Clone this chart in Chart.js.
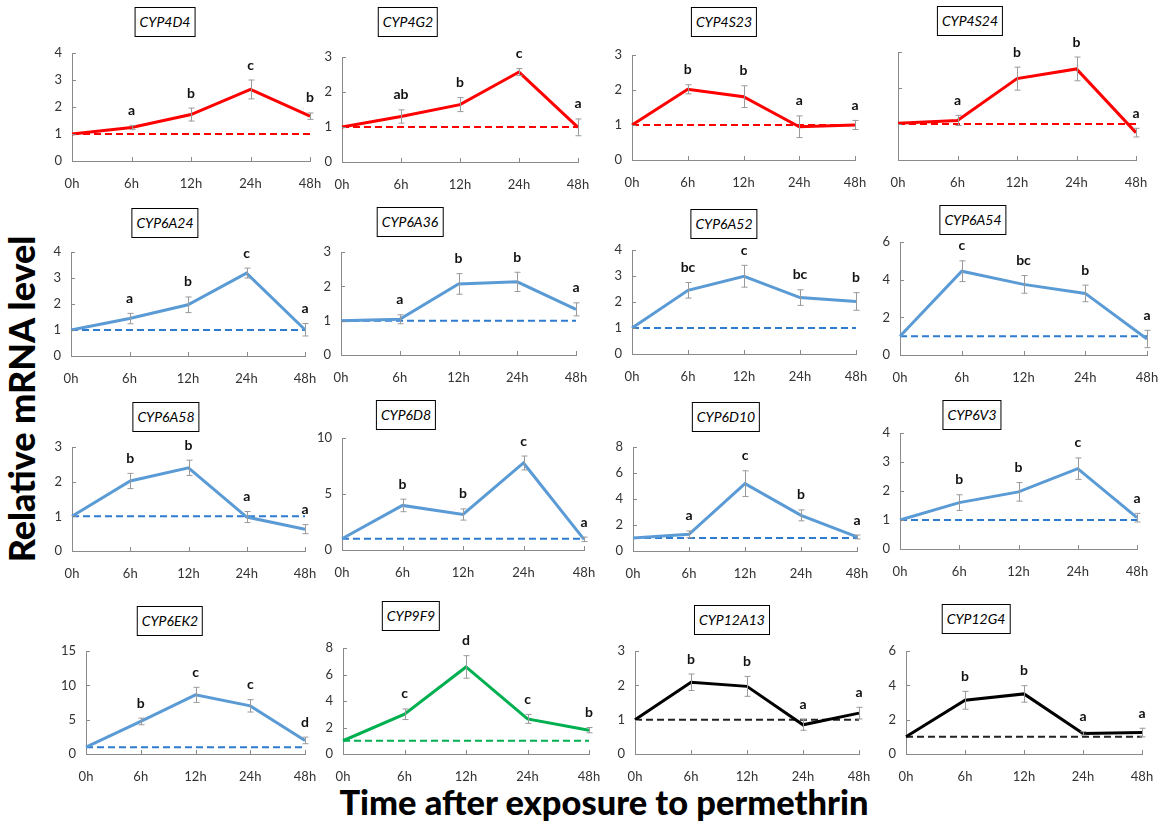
<!DOCTYPE html>
<html><head><meta charset="utf-8">
<script src="https://cdn.jsdelivr.net/npm/chart.js@4.4.1/dist/chart.umd.min.js"></script>
<style>
html,body{margin:0;padding:0;background:#fff;}
body{width:1166px;height:825px;overflow:hidden;position:relative;font-family:Lato,'Open Sans',sans-serif;}
canvas.panel{position:absolute;}
.gtitle{position:absolute;border:1.5px solid #000;font-family:Lato,sans-serif;font-style:italic;font-size:14px;color:#000;padding:6px 4px;line-height:16px;transform:translate(-50%,-50%);white-space:nowrap;background:#fff;}
.axtitle{position:absolute;font-family:Lato,'Open Sans',sans-serif;font-weight:900;color:#000;white-space:nowrap;transform:translate(-50%,-50%);line-height:1;}
</style></head>
<body>
<div id="ytitle" class="axtitle">Relative mRNA level</div>
<div id="xtitle" class="axtitle">Time after exposure to permethrin</div>
<script>
// ---------- DATA ----------
const hours = ['0h', '6h', '12h', '24h', '48h'];
const baseline = [1, 1, 1, 1, 1];
const genes = ['CYP4D4','CYP4G2','CYP4S23','CYP4S24','CYP6A24','CYP6A36','CYP6A52','CYP6A54',
               'CYP6A58','CYP6D8','CYP6D10','CYP6V3','CYP6EK2','CYP9F9','CYP12A13','CYP12G4'];

const meanCYP4D4  = [1.00, 1.24, 1.72, 2.65, 1.66];
const errCYP4D4   = [0, 0.08, 0.24, 0.35, 0.12];
const letCYP4D4   = ['', 'a', 'b', 'c', 'b'];

const meanCYP4G2  = [1.00, 1.30, 1.64, 2.57, 0.99];
const errCYP4G2   = [0, 0.19, 0.20, 0.10, 0.24];
const letCYP4G2   = ['', 'ab', 'b', 'c', 'a'];

const meanCYP4S23 = [1.00, 2.02, 1.81, 0.95, 1.00];
const errCYP4S23  = [0, 0.13, 0.31, 0.31, 0.13];
const letCYP4S23  = ['', 'b', 'b', 'a', 'a'];

const meanCYP4S24 = [1.02, 1.10, 2.26, 2.53, 0.76];
const errCYP4S24  = [0, 0.14, 0.32, 0.33, 0.12];
const letCYP4S24  = ['', 'a', 'b', 'b', 'a'];

const meanCYP6A24 = [1.00, 1.44, 1.97, 3.19, 1.01];
const errCYP6A24  = [0, 0.20, 0.30, 0.19, 0.24];
const letCYP6A24  = ['', 'a', 'b', 'c', 'a'];

const meanCYP6A36 = [1.00, 1.04, 2.07, 2.13, 1.33];
const errCYP6A36  = [0, 0.13, 0.30, 0.28, 0.19];
const letCYP6A36  = ['', 'a', 'b', 'b', 'a'];

const meanCYP6A52 = [1.00, 2.45, 2.99, 2.17, 2.02];
const errCYP6A52  = [0, 0.30, 0.42, 0.30, 0.34];
const letCYP6A52  = ['', 'bc', 'c', 'bc', 'b'];

const meanCYP6A54 = [1.00, 4.45, 3.75, 3.27, 0.85];
const errCYP6A54  = [0, 0.55, 0.47, 0.44, 0.46];
const letCYP6A54  = ['', 'c', 'bc', 'b', 'a'];

const meanCYP6A58 = [1.00, 2.02, 2.40, 0.98, 0.63];
const errCYP6A58  = [0, 0.22, 0.22, 0.16, 0.13];
const letCYP6A58  = ['', 'b', 'b', 'a', 'a'];

const meanCYP6D8  = [1.00, 3.98, 3.17, 7.77, 0.95];
const errCYP6D8   = [0, 0.56, 0.50, 0.62, 0.20];
const letCYP6D8   = ['', 'b', 'b', 'c', 'a'];

const meanCYP6D10 = [1.00, 1.28, 5.18, 2.74, 1.08];
const errCYP6D10  = [0, 0.26, 0.99, 0.42, 0.15];
const letCYP6D10  = ['', 'a', 'c', 'b', 'a'];

const meanCYP6V3  = [1.00, 1.60, 1.97, 2.77, 1.08];
const errCYP6V3   = [0, 0.27, 0.32, 0.37, 0.15];
const letCYP6V3   = ['', 'b', 'b', 'c', 'a'];

const meanCYP6EK2 = [1.00, 4.74, 8.61, 7.01, 1.98];
const errCYP6EK2  = [0, 0.48, 1.10, 0.90, 0.48];
const letCYP6EK2  = ['', 'b', 'c', 'c', 'd'];

const meanCYP9F9  = [1.00, 3.00, 6.57, 2.65, 1.80];
const errCYP9F9   = [0, 0.40, 0.85, 0.34, 0.20];
const letCYP9F9   = ['', 'c', 'd', 'c', 'b'];

const meanCYP12A13 = [1.00, 2.09, 1.97, 0.85, 1.19];
const errCYP12A13  = [0, 0.24, 0.29, 0.16, 0.17];
const letCYP12A13  = ['', 'b', 'b', 'a', 'a'];

const meanCYP12G4 = [1.00, 3.13, 3.50, 1.20, 1.25];
const errCYP12G4  = [0, 0.52, 0.48, 0.10, 0.25];
const letCYP12G4  = ['', 'b', 'b', 'a', 'a'];

// y axis ranges (tick labels)
const yMax  = [4, 3, 3, 3, 4, 3, 4, 6, 3, 10, 8, 4, 15, 8, 3, 6];
const yStep = [1, 1, 1, 1, 1, 1, 1, 2, 1, 5, 2, 1, 5, 2, 1, 2];
const hideYLabels = [false,false,false,true,false,false,false,false,false,false,false,false,false,false,false,false];

const means = [meanCYP4D4, meanCYP4G2, meanCYP4S23, meanCYP4S24, meanCYP6A24, meanCYP6A36, meanCYP6A52, meanCYP6A54,
               meanCYP6A58, meanCYP6D8, meanCYP6D10, meanCYP6V3, meanCYP6EK2, meanCYP9F9, meanCYP12A13, meanCYP12G4];
const errs  = [errCYP4D4, errCYP4G2, errCYP4S23, errCYP4S24, errCYP6A24, errCYP6A36, errCYP6A52, errCYP6A54,
               errCYP6A58, errCYP6D8, errCYP6D10, errCYP6V3, errCYP6EK2, errCYP9F9, errCYP12A13, errCYP12G4];
const lets  = [letCYP4D4, letCYP4G2, letCYP4S23, letCYP4S24, letCYP6A24, letCYP6A36, letCYP6A52, letCYP6A54,
               letCYP6A58, letCYP6D8, letCYP6D10, letCYP6V3, letCYP6EK2, letCYP9F9, letCYP12A13, letCYP12G4];

// ---------- STYLE / LAYOUT ----------
const RED = ['#FF0000', '#FF0000'], BLUE = ['#5B9BD5', '#2E7BCF'], GREEN = ['#00B050', '#00B050'], BLACK = ['#000000', '#222222'];
const palette = [RED, RED, RED, RED, BLUE, BLUE, BLUE, BLUE, BLUE, BLUE, BLUE, BLUE, BLUE, GREEN, BLACK, BLACK];
// plot area [left, right, top, bottom], title centre [x, y]
const boxes = [
  [72, 310, 52.5, 160.7, 165, 21.5], [342, 578, 56.7, 161.3, 408, 21.5], [632, 855, 55, 160, 724, 21.5], [898, 1136, 52.3, 160, 970, 21],
  [71, 305, 252.3, 356.3, 165, 223], [341, 576, 252.3, 355.7, 410, 222.3], [632, 856, 250, 354.3, 724, 224.3], [900, 1147, 241.7, 354.3, 973, 220],
  [72, 305, 446.7, 550.7, 166, 416.5], [342, 584, 438.3, 550.7, 406, 415], [633, 857, 446.7, 550.7, 726, 416.5], [900, 1137, 432.7, 549, 972, 415.3],
  [86, 305, 651, 754.3, 170, 620.5], [343, 589, 648.3, 754, 411, 615.5], [635, 859, 651, 754.3, 732, 620.3], [906, 1142, 650.7, 754, 976, 619.3]
];
const PL = 40, PR = 30, PT = 24, PB = 34;
const AXIS = '#8a8a8a';

const decor = {
  id: 'decor',
  afterDatasetsDraw(chart) {
    const o = chart.options.plugins.decor;
    const {ctx, chartArea: a} = chart;
    const x = chart.scales.x, y = chart.scales.y;
    ctx.save();
    ctx.strokeStyle = AXIS; ctx.lineWidth = 1;
    y.ticks.forEach((t, i) => {
      const py = Math.round(y.getPixelForTick(i)) + 0.5;
      ctx.beginPath(); ctx.moveTo(a.left, py); ctx.lineTo(a.left + 4, py); ctx.stroke();
    });
    x.ticks.forEach((t, i) => {
      const px = Math.round(x.getPixelForTick(i)) + 0.5;
      ctx.beginPath(); ctx.moveTo(px, a.bottom); ctx.lineTo(px, a.bottom - 4); ctx.stroke();
    });
    ctx.strokeStyle = '#9a9a9a'; ctx.lineWidth = 1;
    o.mean.forEach((m, i) => {
      const e = o.err[i];
      if (!e) return;
      const px = Math.round(x.getPixelForValue(i)) + 0.5;
      const t = y.getPixelForValue(m + e), b = y.getPixelForValue(m - e);
      ctx.beginPath();
      ctx.moveTo(px, t); ctx.lineTo(px, b);
      ctx.moveTo(px - 3, t); ctx.lineTo(px + 3, t);
      ctx.moveTo(px - 3, b); ctx.lineTo(px + 3, b);
      ctx.stroke();
    });
    ctx.fillStyle = '#111';
    ctx.font = 'bold 14px Lato, sans-serif';
    ctx.textAlign = 'center'; ctx.textBaseline = 'middle';
    o.letters.forEach((l, i) => {
      if (!l) return;
      const top = y.getPixelForValue(o.mean[i] + o.err[i]);
      ctx.fillText(l, x.getPixelForValue(i), top - 15);
    });
    ctx.restore();
  }
};

const tickFont = {family: 'Lato, sans-serif', size: 13};

genes.forEach((g, k) => {
  const [L, R, T, B, tx, ty] = boxes[k];
  const cv = document.createElement('canvas');
  cv.className = 'panel';
  const w = Math.round(R - L) + PL + PR, h = Math.round(B - T) + PT + PB;
  cv.width = w; cv.height = h;
  cv.style.width = w + 'px'; cv.style.height = h + 'px';
  cv.style.left = Math.round(L - PL) + 'px';
  cv.style.top = Math.round(T - PT) + 'px';
  document.body.appendChild(cv);

  const tdiv = document.createElement('div');
  tdiv.className = 'gtitle';
  tdiv.textContent = g;
  tdiv.style.left = tx + 'px'; tdiv.style.top = ty + 'px';
  document.body.appendChild(tdiv);

  new Chart(cv, {
    type: 'line',
    data: {
      labels: hours,
      datasets: [
        {data: means[k], borderColor: palette[k][0], borderWidth: 3, pointRadius: 0, tension: 0, fill: false},
        {data: baseline, borderColor: palette[k][1], borderWidth: 2, borderDash: [7, 4], pointRadius: 0, fill: false}
      ]
    },
    options: {
      responsive: false, animation: false, devicePixelRatio: 1,
      layout: {padding: {top: PT, right: PR, left: 0, bottom: 0}},
      plugins: {legend: {display: false}, tooltip: {enabled: false},
                decor: {mean: means[k], err: errs[k], letters: lets[k]}},
      scales: {
        x: {
          type: 'category', offset: false,
          grid: {display: true, drawOnChartArea: false, drawTicks: false},
          border: {display: true, color: AXIS, width: 1},
          ticks: {padding: 15, color: '#333', font: tickFont, maxRotation: 0, autoSkip: false},
          afterFit(s) { s.height = PB; }
        },
        y: {
          min: 0, max: yMax[k],
          grid: {display: true, drawOnChartArea: false, drawTicks: false},
          border: {display: true, color: AXIS, width: 1},
          ticks: {stepSize: yStep[k], padding: 10, color: '#333', font: tickFont,
                  callback: (v) => hideYLabels[k] ? '' : v},
          afterFit(s) { s.width = PL; }
        }
      }
    },
    plugins: [decor]
  });
});

// axis titles sized to match the reference extents
function fit(el, target) {
  const c = document.createElement('canvas').getContext('2d');
  c.font = '900 100px Lato, "Open Sans", sans-serif';
  const w = c.measureText(el.textContent).width;
  el.style.fontSize = (100 * target / w).toFixed(2) + 'px';
}
const yt = document.getElementById('ytitle');
fit(yt, 328);
yt.style.left = '22px'; yt.style.top = '399px';
yt.style.transform = 'translate(-50%,-50%) rotate(-90deg)';
const xt = document.getElementById('xtitle');
fit(xt, 530);
xt.style.left = '604px'; xt.style.top = '802px';
</script>
</body></html>
